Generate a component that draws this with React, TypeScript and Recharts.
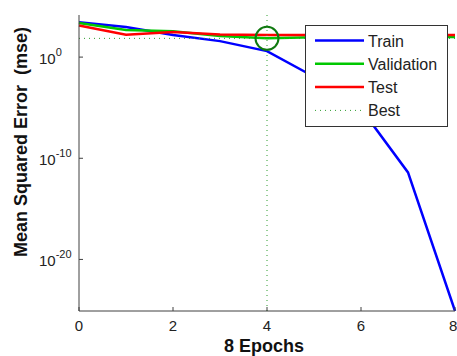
import { Legend, Line, LineChart, ReferenceDot, ReferenceLine, XAxis, YAxis } from "recharts";

// Performance per epoch (mse)
const epochs = [0, 1, 2, 3, 4, 5, 6, 7, 8];
const trainMse = [2750, 930, 150, 38, 3.9, 0.0115, 8e-6, 4e-12, 8e-26];
const validationMse = [2340, 470, 350, 120, 71, 92, 94, 95, 95];
const testMse = [1320, 160, 300, 170, 150, 150, 152, 152, 153];

const xTicks = [0, 2, 4, 6, 8];
const yTicks = [1e-20, 1e-10, 1];
const yDomain = [8e-26, 1.45e4];
const bestEpoch = 4;

const legendNames = ["Train", "Validation", "Test", "Best"];
const legendColors = ["#0000ff", "#00c800", "#ff0000", "#2e9e2e"];

const data = epochs.map((epoch, i) => ({
  epoch,
  train: trainMse[i],
  validation: validationMse[i],
  test: testMse[i],
}));
const bestValue = validationMse[epochs.indexOf(bestEpoch)];

const FONT = '"Liberation Sans", Arial, Helvetica, sans-serif';
const AXIS = "#404040";

// 10 with a superscript exponent
const YTick = ({ x, y, payload }: any) => {
  const exp = Math.round(Math.log10(payload.value));
  return (
    <text x={x - 40} y={y + 6.5} fontSize={15} fill="#222" fontFamily={FONT}>
      10
      <tspan dy={-8} fontSize={11}>
        {exp}
      </tspan>
    </text>
  );
};

const LegendBox = () => (
  <svg width={143} height={102} style={{ display: "block" }}>
    <rect x={0.5} y={0.5} width={142} height={101} fill="#fff" stroke="#333" />
    {legendNames.map((name, i) => {
      const cy = 15.5 + i * 23.3;
      return (
        <g key={name}>
          <line
            x1={10}
            x2={59}
            y1={cy}
            y2={cy}
            stroke={legendColors[i]}
            strokeWidth={name === "Best" ? 1 : 2.5}
            strokeDasharray={name === "Best" ? "1 4" : undefined}
          />
          <text x={63} y={cy + 6} fontSize={16} fill="#222" fontFamily={FONT}>
            {name}
          </text>
        </g>
      );
    })}
  </svg>
);

export default function App() {
  return (
    <div style={{ position: "absolute", left: 0, top: 0, background: "#fff" }}>
      <LineChart width={457} height={356} data={data} margin={{ top: 15, right: 2, left: 0, bottom: 0 }}>
        <XAxis
          dataKey="epoch"
          type="number"
          domain={[0, 8]}
          ticks={xTicks}
          height={45}
          tickSize={-4}
          tickMargin={13}
          stroke={AXIS}
          tick={{ fontSize: 15, fill: "#222", fontFamily: FONT }}
          label={(props: any) => {
            const vb = props.viewBox;
            return (
              <text
                x={vb.x + vb.width / 2 - 3}
                y={352}
                textAnchor="middle"
                fontSize={18}
                fontWeight="bold"
                fill="#111"
                fontFamily={FONT}
              >
                8 Epochs
              </text>
            );
          }}
        />
        <YAxis
          type="number"
          scale="log"
          domain={yDomain}
          allowDataOverflow
          ticks={yTicks}
          width={79}
          tickSize={-4}
          tickMargin={4}
          stroke={AXIS}
          tick={<YTick />}
          label={(props: any) => {
            const vb = props.viewBox;
            const cx = vb.x + 27;
            const cy = vb.y + 127;
            return (
              <text
                x={cx}
                y={cy}
                transform={`rotate(-90 ${cx} ${cy})`}
                textAnchor="middle"
                fontSize={18}
                fontWeight="bold"
                fill="#111"
                fontFamily={FONT}
                style={{ whiteSpace: "pre" }}
              >
                Mean Squared Error  (mse)
              </text>
            );
          }}
        />
        <Line type="linear" dataKey="train" name="Train" stroke="#0000ff" strokeWidth={2.5} dot={false} isAnimationActive={false} />
        <Line type="linear" dataKey="validation" name="Validation" stroke="#00c800" strokeWidth={2.5} dot={false} isAnimationActive={false} />
        <Line type="linear" dataKey="test" name="Test" stroke="#ff0000" strokeWidth={2.5} dot={false} isAnimationActive={false} />
        <ReferenceLine x={bestEpoch} stroke="#2e9e2e" strokeDasharray="1 4" />
        <ReferenceLine y={bestValue} stroke="#2e9e2e" strokeDasharray="1 4" />
        <ReferenceDot x={bestEpoch} y={bestValue} r={11.5} fill="none" stroke="#107a10" strokeWidth={2} />
        <Legend
          layout="horizontal"
          verticalAlign="middle"
          align="center"
          content={<LegendBox />}
          wrapperStyle={{ left: 305, top: 25, width: 143, height: 102 }}
        />
      </LineChart>
    </div>
  );
}
